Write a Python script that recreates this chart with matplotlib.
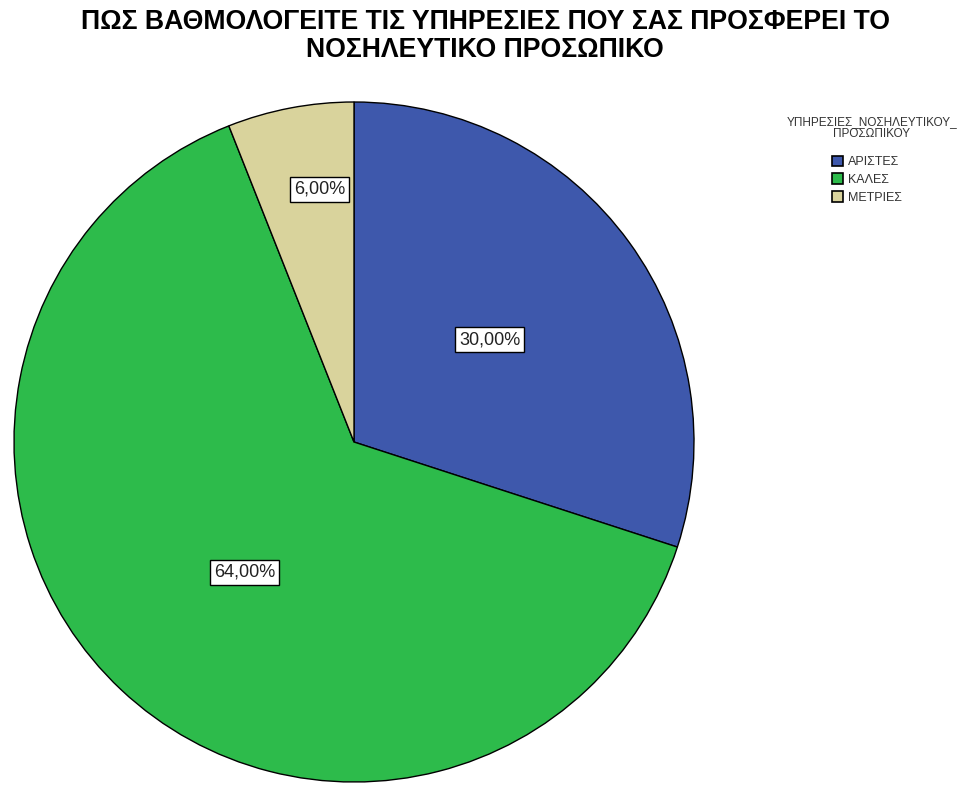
import numpy as np
import matplotlib
matplotlib.use("Agg")
import matplotlib.pyplot as plt
from matplotlib.patches import Patch

categories = ["ΑΡΙΣΤΕΣ", "ΚΑΛΕΣ", "ΜΕΤΡΙΕΣ"]
values = [30.0, 64.0, 6.0]
labels = ["30,00%", "64,00%", "6,00%"]
colors = ["#3E58AC", "#2DBB4B", "#D9D39C"]

# label placement inside each wedge: (fraction along the wedge, radial distance)
label_frac = [0.49, 0.486, 0.64]
label_dist = [0.5, 0.5, 0.75]

plt.rcParams["font.family"] = ["Liberation Sans", "DejaVu Sans"]

fig = plt.figure(figsize=(9.71, 7.85), dpi=100)
W, H = 971, 785
cx, cy, r = 354, 442, 340
ax = fig.add_axes([(cx - r) / W, (H - cy - r) / H, 2 * r / W, 2 * r / H])

wedges, _ = ax.pie(values, colors=colors, startangle=90, counterclock=False,
                   radius=1.0, wedgeprops=dict(edgecolor="black", linewidth=1.0))
ax.set_xlim(-1, 1)
ax.set_ylim(-1, 1)
ax.set_aspect("equal")
ax.axis("off")

total = sum(values)
cum = np.concatenate([[0], np.cumsum(values)])
for i, lab in enumerate(labels):
    pos = (cum[i] + label_frac[i] * values[i]) / total
    ang = np.deg2rad(90 - 360 * pos)
    d = label_dist[i]
    ax.text(d * np.cos(ang), d * np.sin(ang), lab, ha="center", va="center",
            fontsize=13, color="#222222",
            bbox=dict(boxstyle="square,pad=0.22", fc="white", ec="black", lw=1.0))

fig.text(485 / W, 1 - 22 / H, "ΠΩΣ ΒΑΘΜΟΛΟΓΕΙΤΕ ΤΙΣ ΥΠΗΡΕΣΙΕΣ ΠΟΥ ΣΑΣ ΠΡΟΣΦΕΡΕΙ ΤΟ",
         ha="center", va="center", fontsize=19.2, fontweight="bold")
fig.text(485 / W, 1 - 50 / H, "ΝΟΣΗΛΕΥΤΙΚΟ ΠΡΟΣΩΠΙΚΟ",
         ha="center", va="center", fontsize=19.2, fontweight="bold")

# legend title and entries
fig.text(872 / W, 1 - 122 / H, "ΥΠΗΡΕΣΙΕΣ_ΝΟΣΗΛΕΥΤΙΚΟΥ_", ha="center", va="center",
         fontsize=8.5, color="#333333")
fig.text(872 / W, 1 - 134 / H, "ΠΡΟΣΩΠΙΚΟΥ", ha="center", va="center",
         fontsize=8.5, color="#333333")

handles = [Patch(facecolor=c, edgecolor="black", linewidth=1.2) for c in colors]
leg = fig.legend(handles, categories, loc="upper left",
                 bbox_to_anchor=(829 / W, 1 - 153 / H),
                 frameon=False, fontsize=9,
                 handlelength=0.95, handleheight=0.95, handletextpad=0.35,
                 labelspacing=0.42, borderpad=0.2, borderaxespad=0)
for t in leg.get_texts():
    t.set_color("#333333")

fig.savefig("out.png", dpi=100)
